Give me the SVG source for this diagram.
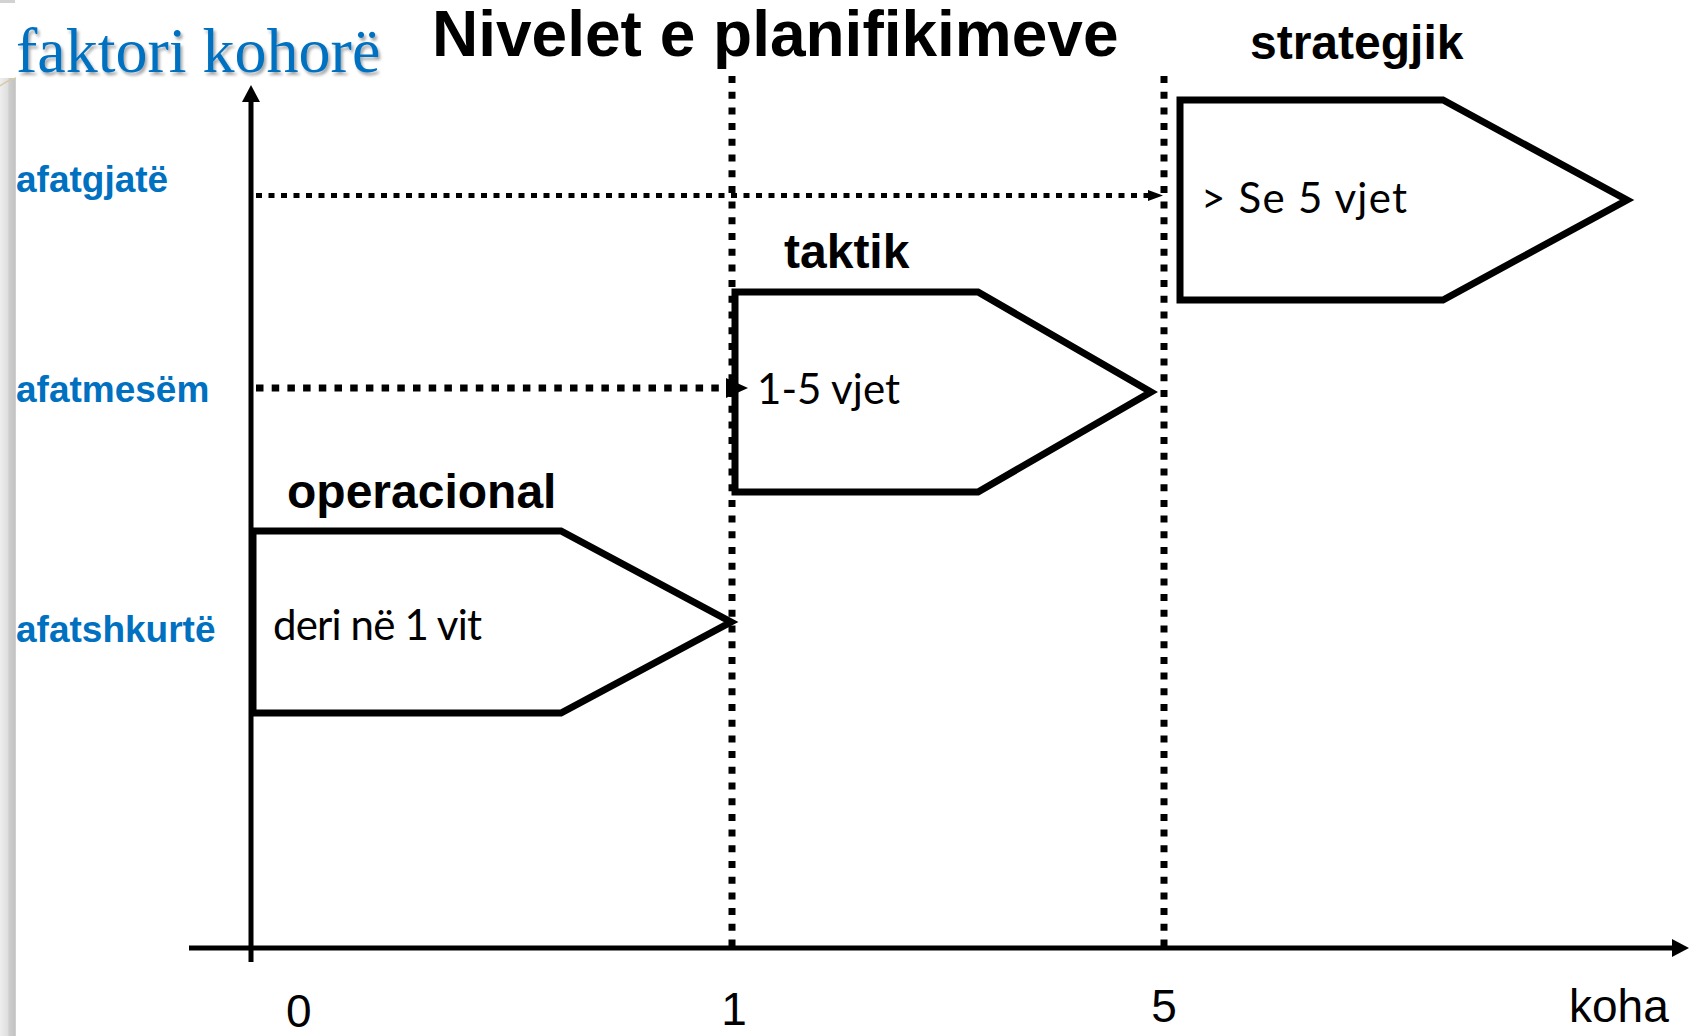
<svg xmlns="http://www.w3.org/2000/svg" width="1694" height="1036" viewBox="0 0 1694 1036">
  <style>
    .title { font-family: "Liberation Sans", Arial, sans-serif; font-weight: bold; fill: #000; }
    .axis-title { font-family: "Liberation Serif", "Times New Roman", serif; font-size: 64px; fill: #0070C0; }
    .level { font-family: "Liberation Sans", Arial, sans-serif; font-weight: bold; font-size: 37px; fill: #0070C0; }
    .head { font-family: "Liberation Sans", Arial, sans-serif; font-weight: bold; font-size: 48px; fill: #000; }
    .inner { font-family: Lato, "Open Sans", sans-serif; font-size: 42px; fill: #000; }
    .tick { font-family: "Liberation Sans", Arial, sans-serif; font-size: 46px; fill: #000; }
    .shape { fill: #fff; stroke: #000; stroke-width: 7; stroke-linejoin: miter; stroke-miterlimit: 10; }
    .axis { stroke: #000; stroke-width: 5; fill: none; }
    .guide { stroke: #000; stroke-width: 7; stroke-dasharray: 7 8.7; fill: none; }
  </style>
  <defs>
    <linearGradient id="sideBar" x1="0" y1="0" x2="1" y2="0">
      <stop offset="0" stop-color="#eeeeee"/>
      <stop offset="0.5" stop-color="#dedede"/>
      <stop offset="0.55" stop-color="#cfcfcf"/>
      <stop offset="0.95" stop-color="#c2c2c2"/>
      <stop offset="1" stop-color="#e4e4e4"/>
    </linearGradient>
    <filter id="softShadow" x="-5%" y="-20%" width="115%" height="150%">
      <feDropShadow dx="2" dy="3" stdDeviation="1.5" flood-color="#000" flood-opacity="0.35"/>
    </filter>
    <marker id="axisHead" markerUnits="userSpaceOnUse" markerWidth="18" markerHeight="18" refX="0" refY="9" orient="auto">
      <path d="M0,0 L17,9 L0,18 z" fill="#000"/>
    </marker>
    <marker id="arrowSm" markerUnits="userSpaceOnUse" markerWidth="16" markerHeight="12" refX="0" refY="6" orient="auto">
      <path d="M0,0.5 L15,6 L0,11.5 z" fill="#000"/>
    </marker>
    <marker id="arrowMd" markerUnits="userSpaceOnUse" markerWidth="23" markerHeight="22" refX="0" refY="11" orient="auto">
      <path d="M0,1 L22,11 L0,21 z" fill="#000"/>
    </marker>
  </defs>

  <rect width="1694" height="1036" fill="#fff"/>

  <!-- slide side bar -->
  <g id="side-bar">
    <rect x="0" y="0" width="15" height="3" fill="#d2d2d2"/>
    <rect x="0" y="78" width="16" height="958" fill="url(#sideBar)"/>
    <path d="M0,86 Q8,80 16,78" stroke="#d8c9a8" stroke-width="1.5" fill="none"/>
  </g>

  <!-- headings -->
  <text class="title" x="432" y="56" font-size="64">Nivelet e planifikimeve</text>
  <text class="axis-title" x="16" y="72" filter="url(#softShadow)">faktori kohorë</text>

  <!-- vertical axis levels -->
  <text class="level" x="16" y="192">afatgjatë</text>
  <text class="level" x="16" y="402">afatmesëm</text>
  <text class="level" x="16" y="642">afatshkurtë</text>

  <!-- planning level shapes -->
  <g id="node-operacional">
    <polygon class="shape" points="253,531 561,531 731,622 561,713 253,713"/>
    <text class="head" x="287" y="508">operacional</text>
    <text class="inner" x="273" y="640" textLength="209" lengthAdjust="spacing">deri në 1 vit</text>
  </g>
  <g id="node-taktik">
    <polygon class="shape" points="735,292 978,292 1151,392 978,492 735,492"/>
    <text class="head" x="784" y="268">taktik</text>
    <text class="inner" x="757" y="404" textLength="143" lengthAdjust="spacing">1-5 vjet</text>
  </g>
  <g id="node-strategjik">
    <polygon class="shape" points="1180,100 1443,100 1627,200 1443,300 1180,300"/>
    <text class="head" x="1250" y="59">strategjik</text>
    <text class="inner" x="1201" y="213" textLength="206" lengthAdjust="spacing">&gt; Se 5 vjet</text>
  </g>

  <!-- axes, guides and arrows -->
  <g id="connectors">
    <line class="axis" x1="251" y1="962" x2="251" y2="102" marker-end="url(#axisHead)"/>
    <line class="axis" x1="189" y1="948" x2="1672" y2="948" marker-end="url(#axisHead)"/>
    <line class="guide" x1="732" y1="76" x2="732" y2="946"/>
    <line class="guide" x1="1164" y1="76" x2="1164" y2="946"/>
    <line x1="256" y1="195.5" x2="1148" y2="195.5" stroke="#000" stroke-width="5" stroke-dasharray="6 6.5" marker-end="url(#arrowSm)"/>
    <line x1="256" y1="388" x2="726" y2="388" stroke="#000" stroke-width="7" stroke-dasharray="7.5 8.2" marker-end="url(#arrowMd)"/>
  </g>

  <!-- time axis ticks -->
  <text class="tick" x="286" y="1027">0</text>
  <text class="tick" x="734" y="1025" text-anchor="middle">1</text>
  <text class="tick" x="1164" y="1022" text-anchor="middle">5</text>
  <text class="tick" x="1569" y="1022">koha</text>
</svg>
